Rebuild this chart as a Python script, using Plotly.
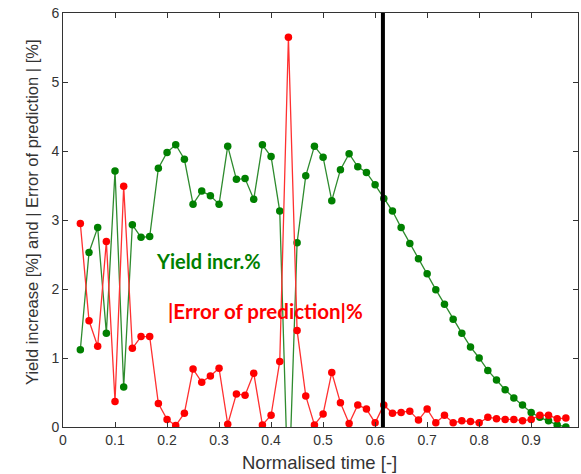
import plotly.graph_objects as go

# x positions: normalised time (k/60, k=2..58)
time = [k / 60 for k in range(2, 59)]

yield_incr = [1.12, 2.53, 2.89, 1.36, 3.71, 0.58, 2.93, 2.75, 2.76, 3.75,
              3.98, 4.09, 3.88, 3.23, 3.42, 3.35, 3.23, 4.07, 3.59, 3.60,
              3.30, 4.09, 3.92, 3.13, -1.1, 2.67, 3.64, 4.07, 3.91, 3.28,
              3.73, 3.96, 3.77, 3.69, 3.51, 3.31, 3.13, 2.89, 2.66, 2.44,
              2.22, 1.99, 1.78, 1.56, 1.36, 1.16, 1.00, 0.82, 0.68, 0.54,
              0.42, 0.32, 0.21, 0.14, 0.09, 0.03, 0.00]

error_pred = [2.95, 1.54, 1.17, 2.69, 0.37, 3.49, 1.14, 1.31, 1.31, 0.34,
              0.11, 0.02, 0.20, 0.84, 0.65, 0.74, 0.85, 0.04, 0.48, 0.46,
              0.78, 0.03, 0.17, 0.95, 5.65, 1.40, 0.45, 0.03, 0.19, 0.79,
              0.35, 0.05, 0.32, 0.26, 0.06, 0.32, 0.20, 0.21, 0.23, 0.10,
              0.26, 0.06, 0.17, 0.06, 0.09, 0.08, 0.06, 0.14, 0.12, 0.11,
              0.11, 0.09, 0.11, 0.17, 0.17, 0.12, 0.13]

vline_x = 0.615
x_ticks = [0, 0.1, 0.2, 0.3, 0.4, 0.5, 0.6, 0.7, 0.8, 0.9]
x_ticktext = ["0", "0.1", "0.2", "0.3", "0.4", "0.5", "0.6", "0.7", "0.8", "0.9"]
y_ticks = [0, 1, 2, 3, 4, 5, 6]

fig = go.Figure()
fig.add_trace(go.Scatter(
    x=time, y=yield_incr, mode="lines+markers",
    line=dict(color="#2e8b2e", width=1.3),
    marker=dict(color="#008000", size=7.5, symbol="circle"),
    cliponaxis=True, showlegend=False))
fig.add_trace(go.Scatter(
    x=time, y=error_pred, mode="lines+markers",
    line=dict(color="#ff3030", width=1.3),
    marker=dict(color="#ff0000", size=7.5, symbol="circle"),
    cliponaxis=True, showlegend=False))

fig.add_shape(type="line", x0=vline_x, x1=vline_x, y0=0, y1=6,
              xref="x", yref="y", line=dict(color="black", width=4))

fig.add_annotation(x=0.18, y=2.4, xref="x", yref="y", text="<b>Yield incr.%</b>",
                   showarrow=False, xanchor="left", xshift=-3,
                   font=dict(family="Lato", size=20, color="#008000"))
fig.add_annotation(x=0.203, y=1.68, xref="x", yref="y",
                   text="<b>|Error of prediction|%</b>",
                   showarrow=False, xanchor="left", xshift=-3,
                   font=dict(family="Lato", size=20.5, color="#ff0000"))

# axis titles
fig.add_annotation(x=0, y=0.517, xref="paper", yref="paper", xshift=-31,
                   text="Yield increase [%] and | Error of prediction | [%]",
                   textangle=-90, showarrow=False, xanchor="center", yanchor="middle",
                   font=dict(family="Liberation Sans", size=16.5, color="#333333"))
fig.add_annotation(x=0.499, y=0, xref="paper", yref="paper", yshift=-35,
                   text="Normalised time [-]",
                   showarrow=False, xanchor="center", yanchor="middle",
                   font=dict(family="Liberation Sans", size=18.5, color="#333333"))

axis_common = dict(showline=True, mirror="ticks", linecolor="#333333", linewidth=1,
                   ticks="inside", ticklen=5, tickcolor="#333333",
                   showgrid=False, zeroline=False,
                   tickfont=dict(family="Liberation Sans", size=14, color="#333333"))

fig.update_xaxes(range=[0, 0.99], tickvals=x_ticks, ticktext=x_ticktext, **axis_common)
fig.update_yaxes(range=[0, 6], tickvals=y_ticks, **axis_common)

fig.update_layout(width=581, height=474,
                  margin=dict(l=63, r=3, t=13, b=47),
                  plot_bgcolor="white", paper_bgcolor="white")

fig.write_html("out.html")
